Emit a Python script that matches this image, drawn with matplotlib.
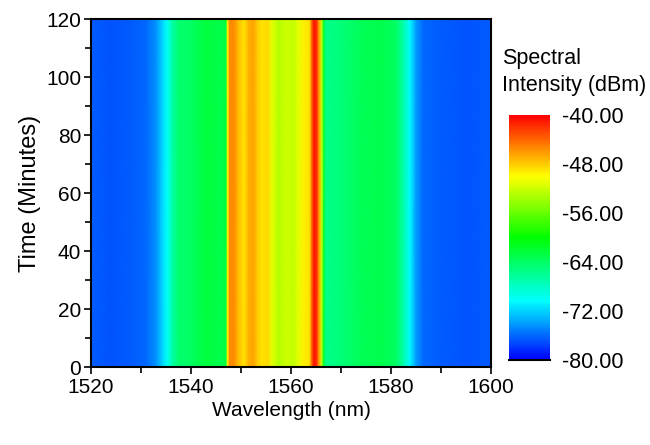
import matplotlib
matplotlib.use("Agg")
import matplotlib.pyplot as plt
import numpy as np
from matplotlib.colors import LinearSegmentedColormap
from matplotlib.ticker import MultipleLocator

# spectrum (constant over the 2 h run)
wavelength = [1520, 1524, 1528, 1531, 1533, 1534.5, 1535.3, 1536.2, 1537.5, 1540,
              1543, 1546, 1547.0, 1547.3, 1547.7, 1548.6, 1549.5, 1550.6, 1551.5,
              1552.5, 1553.3, 1554.2, 1555.3, 1556.2, 1557.5, 1559, 1560.5, 1561.5,
              1562.5, 1563.7, 1564.2, 1564.6, 1565.1, 1565.6, 1566.1, 1566.6, 1567,
              1570, 1574, 1578, 1581, 1582.5, 1583.8, 1585, 1586.5, 1590, 1595, 1600]
intensity = [-76.5, -76.8, -76.5, -76.0, -74.5, -71.5, -70.0, -67.0, -64.5, -64.0,
             -62.5, -63.0, -62.5, -50.0, -45.5, -45.5, -47.5, -49.0, -47.0,
             -46.5, -48.0, -49.0, -48.5, -51.0, -53.0, -52.0, -52.5, -51.0,
             -49.5, -49.0, -44.0, -41.0, -41.5, -46.0, -52.0, -62.0, -65.5,
             -65.0, -63.5, -63.0, -64.0, -67.0, -70.5, -74.0, -76.0, -76.5, -76.8, -76.5]
time_min = [0, 120]

cb_ticks = [-80, -72, -64, -56, -48, -40]

cmap = LinearSegmentedColormap.from_list(
    "origin_rainbow",
    [(0.0, "#0000ff"), (0.24, "#00ffff"), (0.5, "#00ff00"),
     (0.75, "#ffff00"), (1.0, "#ff0000")])

plt.rcParams['font.family'] = ['Liberation Sans', 'DejaVu Sans']

W, T = np.meshgrid(wavelength, time_min)
Z = np.tile(intensity, (len(time_min), 1))

fig = plt.figure(figsize=(6.5, 4.45), dpi=100)
ax = fig.add_axes([0.14, 0.175, 0.6154, 0.782])
mesh = ax.pcolormesh(W, T, Z, cmap=cmap, vmin=-80, vmax=-40, shading='gouraud')

ax.set_xlim(1520, 1600)
ax.set_ylim(0, 120)
ax.xaxis.set_major_locator(MultipleLocator(20))
ax.xaxis.set_minor_locator(MultipleLocator(10))
ax.yaxis.set_major_locator(MultipleLocator(20))
ax.yaxis.set_minor_locator(MultipleLocator(10))
ax.tick_params(which='major', direction='out', length=5, width=1.2)
ax.tick_params(which='minor', direction='out', length=4, width=1.2)
ax.tick_params(axis='y', labelsize=15, pad=2)
ax.tick_params(axis='x', labelsize=15, pad=3)
for s in ax.spines.values():
    s.set_linewidth(1.5)

ax.set_xlabel("Wavelength (nm)", fontsize=15, labelpad=3)
ax.set_ylabel("Time (Minutes)", fontsize=17, labelpad=4)

cax = fig.add_axes([0.783, 0.191, 0.063, 0.551])
cb = fig.colorbar(mesh, cax=cax, ticks=cb_ticks)
cb.outline.set_visible(False)
cb.ax.tick_params(length=0, pad=9, labelsize=15.5)
cb.ax.set_yticklabels([f"{t:.2f}" for t in cb_ticks])
cax.axhline(-80, color='k', lw=1.5, clip_on=False)

fig.text(0.772, 0.785, "Spectral\nIntensity (dBm)", fontsize=15.5,
         ha='left', va='bottom', linespacing=1.35)

fig.savefig("out.png", dpi=100)
